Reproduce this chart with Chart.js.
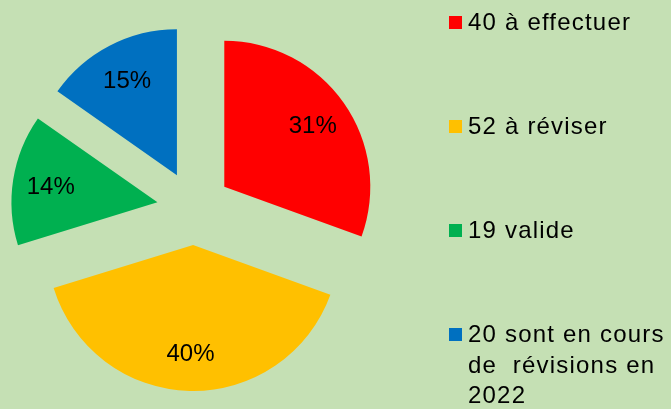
<!DOCTYPE html>
<html><head><meta charset="utf-8">
<script src="https://cdn.jsdelivr.net/npm/chart.js@4.4.0/dist/chart.umd.min.js"></script>
<style>
html,body{margin:0;padding:0;background:#C5E0B4;}
#wrap{position:relative;width:671px;height:409px;overflow:hidden;background:#C5E0B4;font-family:"Liberation Sans",Arial,sans-serif;}
canvas{position:absolute;left:0;top:0;}
.item{position:absolute;left:449px;width:222px;}
.sw{position:absolute;left:0;top:9px;width:13px;height:13px;}
.tx{position:absolute;left:19px;top:0;width:203px;font-size:24px;line-height:30.5px;letter-spacing:1.2px;color:#000;white-space:pre-wrap;}
</style></head>
<body><div id="wrap"><canvas id="c" width="671" height="409"></canvas><div id="legend"></div></div>
<script>
const categories = ['40 à effectuer', '52 à réviser', '19 valide', '20 sont en cours de  révisions en 2022'];
const values = [40, 52, 19, 20];
const percentLabels = ['31%', '40%', '14%', '15%'];
const colors = ['#FF0000', '#FFC000', '#00B050', '#0070C0'];

const EXPLODE = 37;
const explodePlugin = {
  id: 'explode',
  afterDatasetUpdate(chart, args) {
    const meta = chart.getDatasetMeta(args.index);
    meta.data.forEach(arc => {
      const mid = (arc.startAngle + arc.endAngle) / 2;
      arc.x += Math.cos(mid) * EXPLODE;
      arc.y += Math.sin(mid) * EXPLODE;
    });
  }
};
const labelPlugin = {
  id: 'pctLabels',
  afterDatasetsDraw(chart) {
    const ctx = chart.ctx;
    const meta = chart.getDatasetMeta(0);
    ctx.save();
    ctx.font = '24px "Liberation Sans", Arial, sans-serif';
    ctx.fillStyle = '#000';
    ctx.textAlign = 'center';
    ctx.textBaseline = 'alphabetic';
    meta.data.forEach((arc, i) => {
      const mid = (arc.startAngle + arc.endAngle) / 2;
      const r = arc.outerRadius * 0.74;
      const x = arc.x + Math.cos(mid) * r;
      const y = arc.y + Math.sin(mid) * r;
      ctx.fillText(percentLabels[i], x, y + 8.5);
    });
    ctx.restore();
  }
};

new Chart(document.getElementById('c'), {
  type: 'pie',
  data: {
    labels: categories,
    datasets: [{
      data: values,
      backgroundColor: colors,
      borderWidth: 0,
      radius: 146
    }]
  },
  options: {
    responsive: false,
    animation: false,
    events: [],
    layout: { padding: { left: 0, right: 283, top: 7, bottom: 0 } },
    plugins: { legend: { display: false }, tooltip: { enabled: false } }
  },
  plugins: [explodePlugin, labelPlugin]
});

const legend = document.getElementById('legend');
categories.forEach((label, i) => {
  const item = document.createElement('div');
  item.className = 'item';
  item.style.top = (7 + i * 104) + 'px';
  const sw = document.createElement('div');
  sw.className = 'sw';
  sw.style.background = colors[i];
  const tx = document.createElement('div');
  tx.className = 'tx';
  tx.textContent = label;
  item.appendChild(sw);
  item.appendChild(tx);
  legend.appendChild(item);
});
</script>
</body></html>
